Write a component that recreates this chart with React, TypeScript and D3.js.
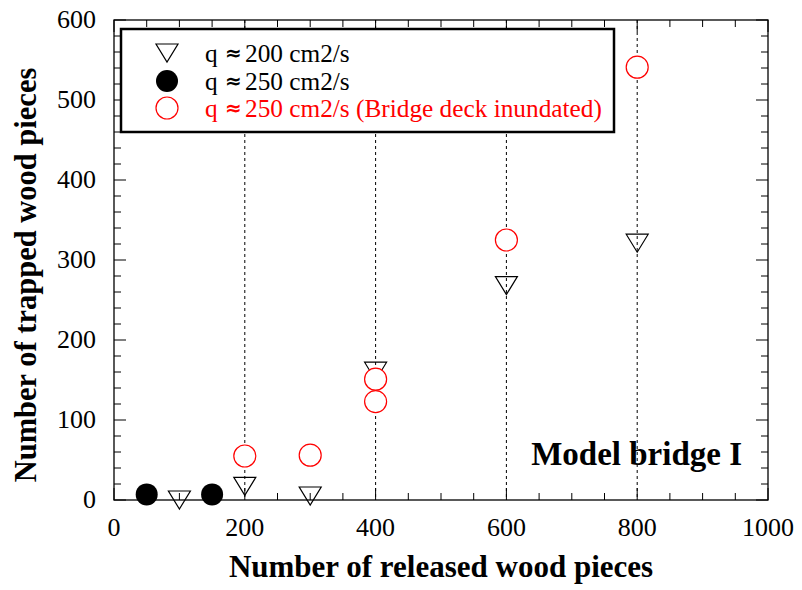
import React from "react";
import * as d3 from "d3";

const triX = [100, 200, 300, 400, 600, 800];
const triY = [0, 17, 5, 161, 268, 321];
const dotX = [50, 150];
const dotY = [7, 7];
const redX = [200, 300, 400, 400, 600, 800];
const redY = [55, 56, 151, 123, 325, 541];
const xTicks = [0, 200, 400, 600, 800, 1000];
const yTicks = [0, 100, 200, 300, 400, 500, 600];
const gridX = [200, 400, 600, 800];
const legendLabels = ["200 cm2/s", "250 cm2/s", "250 cm2/s (Bridge deck inundated)"];

const W = 802, H = 590;
const L = 114, R = 768, T = 20, B = 500;
const FONT = "Liberation Serif, Tinos, DejaVu Serif, serif";

export default function App() {
  const x = d3.scaleLinear().domain([0, 1000]).range([L, R]);
  const y = d3.scaleLinear().domain([0, 600]).range([B, T]);
  const xMinor = d3.range(0, 1001, 50);
  const yMinor = d3.range(0, 601, 20);
  const tri = (cx: number, cy: number) => {
    const w = 11, h = 9;
    return `M${cx - w},${cy - h}L${cx + w},${cy - h}L${cx},${cy + h}Z`;
  };
  const legendRows = [53, 81, 108];
  const legendBase = [62, 90, 117];
  const ts: React.CSSProperties = { fontFamily: FONT };
  return (
    <svg width={W} height={H} style={{ position: "absolute", left: 0, top: 0, background: "#fff", fontFamily: FONT }}>
      <rect x={0} y={0} width={W} height={H} fill="#fff" />
      {gridX.map((v) => (
        <line key={"g" + v} x1={x(v)} x2={x(v)} y1={T} y2={B} stroke="#000" strokeWidth={1} strokeDasharray="3,3" />
      ))}
      {xMinor.map((v) => {
        const len = v % 200 === 0 ? 12 : 7;
        return (
          <g key={"xt" + v}>
            <line x1={x(v)} x2={x(v)} y1={B} y2={B - len} stroke="#000" strokeWidth={1} />
            <line x1={x(v)} x2={x(v)} y1={T} y2={T + len} stroke="#000" strokeWidth={1} />
          </g>
        );
      })}
      {yMinor.map((v) => {
        const len = v % 100 === 0 ? 12 : 7;
        return (
          <g key={"yt" + v}>
            <line x1={L} x2={L + len} y1={y(v)} y2={y(v)} stroke="#000" strokeWidth={1} />
            <line x1={R} x2={R - len} y1={y(v)} y2={y(v)} stroke="#000" strokeWidth={1} />
          </g>
        );
      })}
      <rect x={L} y={T} width={R - L} height={B - T} fill="none" stroke="#000" strokeWidth={1.3} />
      {xTicks.map((v) => (
        <text key={"xl" + v} style={ts} x={x(v)} y={536} fontSize={26} textAnchor="middle" fill="#000">{v}</text>
      ))}
      {yTicks.map((v) => (
        <text key={"yl" + v} style={ts} x={96} y={y(v) + 8} fontSize={26} textAnchor="end" fill="#000">{v}</text>
      ))}
      <text style={ts} x={441} y={577} fontSize={31} fontWeight="bold" textAnchor="middle" fill="#000">Number of released wood pieces</text>
      <text style={ts} transform={`translate(36,275) rotate(-90)`} fontSize={30.5} fontWeight="bold" textAnchor="middle" fill="#000">Number of trapped wood pieces</text>
      {triX.map((v, i) => (
        <path key={"tr" + i} d={tri(x(v), y(triY[i]))} fill="none" stroke="#000" strokeWidth={1.2} />
      ))}
      {dotX.map((v, i) => (
        <circle key={"d" + i} cx={x(v)} cy={y(dotY[i])} r={11} fill="#000" />
      ))}
      {redX.map((v, i) => (
        <circle key={"r" + i} cx={x(v)} cy={y(redY[i])} r={11} fill="#fff" stroke="#ff0000" strokeWidth={1.2} />
      ))}
      <text style={ts} x={742} y={465} fontSize={33} fontWeight="bold" textAnchor="end" fill="#000">Model bridge I</text>
      <rect x={121} y={29} width={493} height={103} fill="#fff" stroke="#000" strokeWidth={2.5} />
      <path d={tri(167, legendRows[0])} fill="none" stroke="#000" strokeWidth={1.2} />
      <circle cx={167} cy={legendRows[1]} r={11} fill="#000" />
      <circle cx={167} cy={legendRows[2]} r={11} fill="#fff" stroke="#ff0000" strokeWidth={1.2} />
      {legendLabels.map((lab, i) => {
        const col = i === 2 ? "#ff0000" : "#000";
        return (
          <g key={"lg" + i} fill={col}>
            <text style={ts} x={205} y={legendBase[i]} fontSize={25.3}>q</text>
            <text x={225} y={legendBase[i] - 2} fontSize={20} fontWeight="bold" style={{ fontFamily: "DejaVu Sans, sans-serif", fontStyle: "italic" }}>≈</text>
            <text style={ts} x={245} y={legendBase[i]} fontSize={25.3}>{lab}</text>
          </g>
        );
      })}
    </svg>
  );
}
